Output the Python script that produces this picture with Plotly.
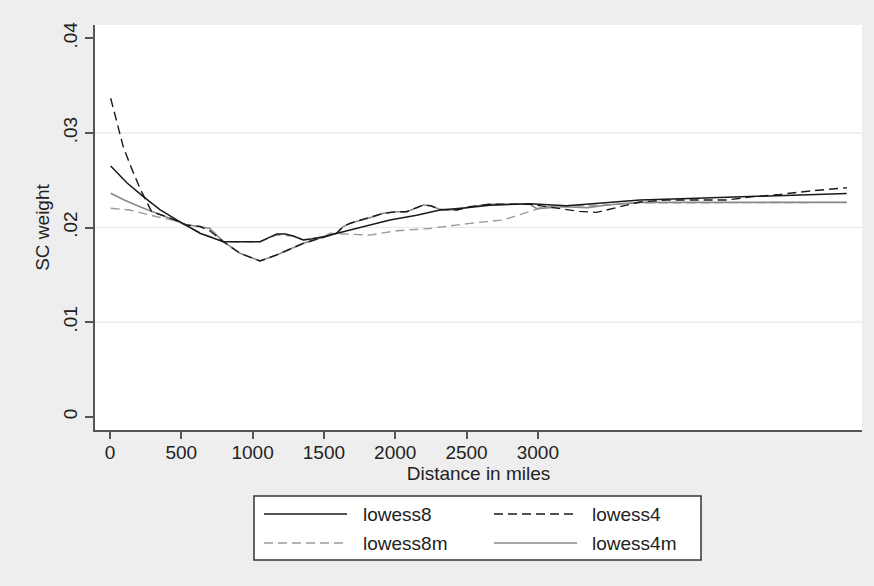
import plotly.graph_objects as go

# ---------------- data ----------------
series_names = ["lowess8", "lowess4", "lowess8m", "lowess4m"]

lowess8_x = [5, 120, 234, 350, 468, 631, 795, 900, 1052, 1110, 1169, 1230, 1285, 1356, 1420,
             1496, 1636, 1800, 1963, 2150, 2314, 2500, 2664, 2945, 3200, 3450, 3716, 4114,
             4464, 4815, 5166]
lowess8_y = [.0265, .0247, .02326, .0219, .0208, .01939, .0185, .01848, .0185, .0189, .0193,
             .0193, .0191, .01868, .0188, .01903, .01956, .0202, .0208, .0213, .02185, .0221,
             .02235, .0225, .0223, .0226, .0229, .02309, .02326, .02344, .0236]

lowess4_x = [5, 93, 150, 210, 292, 397, 538, 631, 700, 795, 912, 1052, 1169, 1356, 1589, 1636,
             1683, 1846, 1916, 2010, 2080, 2197, 2250, 2314, 2431, 2524, 2664, 2945, 3050, 3179,
             3290, 3413, 3500, 3576, 3716, 3903, 4324, 4511, 4698, 4931, 5095, 5166]
lowess4_y = [.03366, .02854, .0263, .02414, .02167, .02114, .02026, .0201, .01965, .0185,
             .01727, .01646, .0171, .01833, .01939, .0201, .02044, .02114, .0215, .02167,
             .02167, .02238, .0223, .0219, .02185, .0222, .02245, .02245, .0222, .0219, .0217,
             .0216, .0219, .0222, .0227, .0229, .0229, .02326, .0235, .0239, .02414, .0242]

lowess8m_x = [5, 140, 327, 468, 631, 795, 1052, 1169, 1285, 1356, 1496, 1543, 1823, 2010, 2244,
              2524, 2758, 2898, 2968, 3050, 3300, 3500, 3716, 4500, 5166]
lowess8m_y = [.02203, .02185, .02114, .0207, .01945, .0185, .0185, .0192, .0191, .0187, .0190,
              .01939, .0192, .01966, .0199, .02044, .0208, .0215, .02185, .0222, .0223, .0224,
              .0226, .02266, .02266]

lowess4m_x = [5, 100, 210, 397, 538, 631, 700, 795, 912, 1052, 1169, 1356, 1589, 1636, 1683,
              1846, 1916, 2010, 2080, 2197, 2250, 2314, 2431, 2524, 2664, 2945, 2992, 3179,
              3350, 3500, 3716, 4300, 5166]
lowess4m_y = [.02362, .0229, .0222, .02114, .02026, .0201, .0199, .0185, .01727, .01646, .0171,
              .01833, .01939, .0201, .02044, .02114, .0215, .02167, .02167, .02238, .0223,
              .0219, .02185, .0222, .02245, .02245, .0220, .0222, .0221, .0224, .02266,
              .02266, .02266]

x_tick_vals = [0, 500, 1000, 1500, 2000, 2500, 3000]
x_tick_text = ["0", "500", "1000", "1500", "2000", "2500", "3000"]
y_tick_vals = [0, 0.01, 0.02, 0.03, 0.04]
y_tick_text = ["0", ".01", ".02", ".03", ".04"]
y_grid_vals = [0.01, 0.02, 0.03]

# ---------------- styles ----------------
styles = {
    "lowess8": dict(color="#1a1a1a", width=1.5, dash="solid"),
    "lowess4": dict(color="#1a1a1a", width=1.4, dash="9px,5px"),
    "lowess8m": dict(color="#9a9a9a", width=1.4, dash="9px,5px"),
    "lowess4m": dict(color="#8a8a8a", width=1.6, dash="solid"),
}
data = {
    "lowess8": (lowess8_x, lowess8_y),
    "lowess4": (lowess4_x, lowess4_y),
    "lowess8m": (lowess8m_x, lowess8m_y),
    "lowess4m": (lowess4m_x, lowess4m_y),
}
draw_order = ["lowess8m", "lowess4m", "lowess8", "lowess4"]

W, H = 874, 586
ML, MR, MT, MB = 95, 12, 25, 156
PW, PH = W - ML - MR, H - MT - MB


def px_x(px):
    return (px - ML) / PW


def px_y(py):
    return (H - MB - py) / PH


FONT = "Liberation Sans, Arial, sans-serif"
TXT = "#222222"

fig = go.Figure()
for name in draw_order:
    xs, ys = data[name]
    fig.add_trace(go.Scatter(x=xs, y=ys, mode="lines", name=name,
                             line=styles[name], showlegend=False, hoverinfo="skip"))

shapes = []
for gv in y_grid_vals:
    shapes.append(dict(type="line", xref="paper", yref="y", x0=0, x1=1, y0=gv, y1=gv,
                       line=dict(color="#e8e8e8", width=1.2), layer="below"))

# manual legend box
shapes.append(dict(type="rect", xref="paper", yref="paper",
                   x0=px_x(254), x1=px_x(701), y0=px_y(496), y1=px_y(560),
                   line=dict(color="#333333", width=1.5), fillcolor="white"))
annotations = []
legend_layout = [("lowess8", 264, 361, 514), ("lowess4", 494, 590, 514),
                 ("lowess8m", 264, 361, 543), ("lowess4m", 494, 590, 543)]
for name, sx, tx, ry in legend_layout:
    st = styles[name]
    shapes.append(dict(type="line", xref="paper", yref="paper",
                       x0=px_x(sx), x1=px_x(sx + 83), y0=px_y(ry), y1=px_y(ry),
                       line=dict(color=st["color"], width=st["width"], dash=st["dash"])))
    annotations.append(dict(xref="paper", yref="paper", x=px_x(tx), y=px_y(ry),
                            text=name, showarrow=False, xanchor="left", yanchor="middle",
                            font=dict(family=FONT, size=19, color=TXT)))

fig.update_layout(
    width=W, height=H,
    margin=dict(l=ML, r=MR, t=MT, b=MB, pad=0),
    paper_bgcolor="#eeeeee",
    plot_bgcolor="white",
    font=dict(family=FONT, size=19, color=TXT),
    shapes=shapes,
    annotations=annotations,
    showlegend=False,
)
fig.update_xaxes(range=[-105, 5273], tickvals=x_tick_vals, ticktext=x_tick_text,
                 showgrid=False, zeroline=False, showline=True, linecolor="#555555",
                 linewidth=2, ticks="outside", ticklen=7, tickwidth=1.5, tickcolor="#555555",
                 ticklabelstandoff=-3,
                 tickfont=dict(family=FONT, size=19, color=TXT),
                 title=dict(text="Distance in miles", standoff=0,
                            font=dict(family=FONT, size=19, color=TXT)))
fig.update_yaxes(range=[-0.0014, 0.0414], tickvals=y_tick_vals, ticktext=y_tick_text,
                 showgrid=False, zeroline=False, showline=True, linecolor="#555555",
                 linewidth=2, ticks="outside", ticklen=8, tickwidth=1.5, tickcolor="#555555",
                 tickangle=-90,
                 tickfont=dict(family=FONT, size=19, color=TXT),
                 title=dict(text="SC weight", standoff=6,
                            font=dict(family=FONT, size=19, color=TXT)))

fig.write_html("out.html",
               config={"displayModeBar": False},
               post_script="document.body.style.margin='0';document.body.style.overflow='hidden';")
